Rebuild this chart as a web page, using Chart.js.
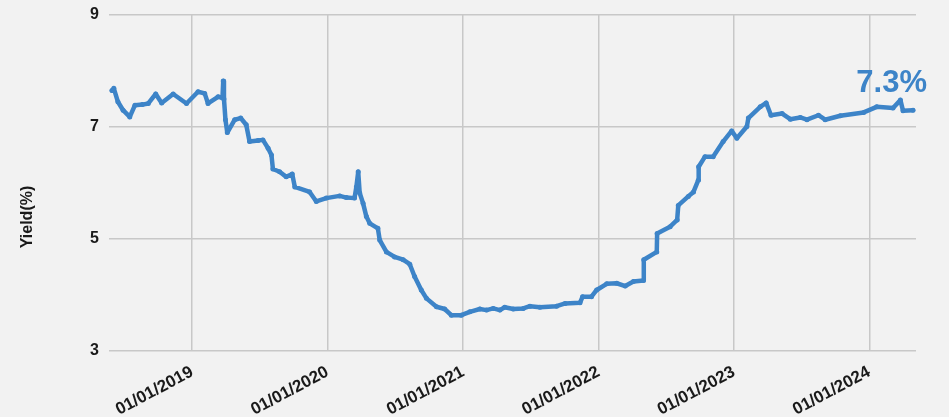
<!DOCTYPE html>
<html>
<head>
<meta charset="utf-8">
<script src="https://cdn.jsdelivr.net/npm/chart.js@4"></script>
<style>
  html, body { margin: 0; padding: 0; background: #f2f2f2; }
  #wrap { width: 949px; height: 417px; }
</style>
</head>
<body>
<div id="wrap"><canvas id="yieldChart"></canvas></div>
<script>
// daily yield
const dates = [
  '2018-05-30', '2018-06-04', '2018-06-15', '2018-06-29', '2018-07-17', '2018-07-31',
  '2018-08-20', '2018-09-05', '2018-09-25', '2018-10-11', '2018-11-11', '2018-12-17',
  '2019-01-17', '2019-02-04', '2019-02-13', '2019-03-12', '2019-03-24', '2019-03-26',
  '2019-03-28', '2019-04-01', '2019-04-06', '2019-04-26', '2019-05-12', '2019-05-27',
  '2019-06-05', '2019-06-28', '2019-07-11', '2019-07-25', '2019-08-03', '2019-08-07',
  '2019-08-25', '2019-09-12', '2019-09-28', '2019-10-05', '2019-11-14', '2019-12-02',
  '2019-12-29', '2020-02-03', '2020-02-21', '2020-03-14', '2020-03-19', '2020-03-24',
  '2020-03-28', '2020-04-06', '2020-04-15', '2020-04-24', '2020-05-16', '2020-05-21',
  '2020-06-08', '2020-06-30', '2020-07-23', '2020-08-10', '2020-08-23', '2020-09-10',
  '2020-09-24', '2020-10-21', '2020-11-12', '2020-11-30', '2020-12-27', '2021-01-19',
  '2021-02-15', '2021-03-05', '2021-03-23', '2021-04-10', '2021-04-23', '2021-05-16',
  '2021-06-12', '2021-06-30', '2021-07-27', '2021-09-10', '2021-10-03', '2021-11-12',
  '2021-11-19', '2021-12-13', '2021-12-27', '2022-01-23', '2022-02-19', '2022-03-14',
  '2022-04-05', '2022-05-02', '2022-05-03', '2022-06-07', '2022-06-08', '2022-07-13',
  '2022-08-01', '2022-08-04', '2022-08-31', '2022-09-14', '2022-09-27', '2022-09-28',
  '2022-10-15', '2022-11-06', '2022-12-03', '2022-12-26', '2023-01-09', '2023-02-05',
  '2023-02-09', '2023-03-13', '2023-03-29', '2023-04-11', '2023-05-11', '2023-06-02',
  '2023-06-29', '2023-07-17', '2023-08-17', '2023-09-04', '2023-10-15', '2023-12-17',
  '2024-01-21', '2024-03-05', '2024-03-25', '2024-04-01', '2024-04-28'
];
const yields = [
  7.65, 7.69, 7.45, 7.30, 7.18, 7.39,
  7.40, 7.42, 7.59, 7.43, 7.59, 7.42,
  7.63, 7.60, 7.42, 7.54, 7.52, 7.82,
  7.50, 7.13, 6.90, 7.13, 7.16, 7.04,
  6.74, 6.76, 6.77, 6.62, 6.50, 6.25,
  6.20, 6.11, 6.16, 5.93, 5.84, 5.67,
  5.73, 5.77, 5.74, 5.73, 5.93, 6.20,
  5.82, 5.64, 5.40, 5.28, 5.19, 4.98,
  4.77, 4.68, 4.63, 4.55, 4.33, 4.09,
  3.94, 3.79, 3.75, 3.64, 3.64, 3.70,
  3.75, 3.73, 3.76, 3.73, 3.78, 3.75,
  3.76, 3.80, 3.78, 3.80, 3.85, 3.86,
  3.97, 3.97, 4.09, 4.20, 4.21, 4.16,
  4.24, 4.26, 4.63, 4.77, 5.10, 5.22,
  5.34, 5.60, 5.76, 5.84, 6.05, 6.29,
  6.47, 6.47, 6.74, 6.93, 6.80, 7.01,
  7.16, 7.36, 7.43, 7.21, 7.24, 7.14,
  7.17, 7.13, 7.21, 7.13, 7.20, 7.26,
  7.36, 7.34, 7.48, 7.29, 7.30
];
const tickYears = [2019, 2020, 2021, 2022, 2023, 2024];
const yTicks = [3, 5, 7, 9];
const xStart = '2018-05-22';
const xEnd = '2024-05-06';
const lastLabel = '7.3%';

const DAY = 86400000;
const base = Date.UTC(2019, 0, 1);
const toDay = (s) => {
  const p = s.split('-').map(Number);
  return (Date.UTC(p[0], p[1] - 1, p[2]) - base) / DAY;
};
const pad2 = (n) => (n < 10 ? '0' : '') + n;

const points = dates.map((d, i) => ({ x: toDay(d), y: yields[i] }));

const lineColor = '#3d84c8';
const font = "'Liberation Sans', Arial, sans-serif";

const extraText = {
  id: 'extraText',
  afterDatasetsDraw(chart) {
    const ctx = chart.ctx;
    const meta = chart.getDatasetMeta(0);
    const last = meta.data[meta.data.length - 1];
    ctx.save();
    ctx.fillStyle = lineColor;
    ctx.font = 'bold 31px ' + font;
    ctx.textAlign = 'right';
    ctx.textBaseline = 'alphabetic';
    ctx.fillText(lastLabel, last.x + 14, last.y - 18);

    // y axis title
    ctx.translate(28, 217);
    ctx.rotate(-Math.PI / 2);
    ctx.fillStyle = '#1a1a1a';
    ctx.font = 'bold 16px ' + font;
    ctx.textAlign = 'center';
    ctx.textBaseline = 'middle';
    ctx.fillText('Yield(%)', 0, 0);
    ctx.restore();
  }
};

new Chart(document.getElementById('yieldChart'), {
  type: 'line',
  data: {
    datasets: [{
      label: 'Yield',
      data: points,
      borderColor: lineColor,
      backgroundColor: lineColor,
      borderWidth: 4.5,
      pointRadius: 2.5,
      pointBorderWidth: 0,
      pointHoverRadius: 3,
      borderJoinStyle: 'round',
      borderCapStyle: 'round',
      tension: 0
    }]
  },
  options: {
    responsive: true,
    maintainAspectRatio: false,
    animation: false,
    layout: { padding: { top: 0, right: 33, left: 0, bottom: 0 } },
    plugins: {
      legend: { display: false },
      tooltip: { enabled: false }
    },
    scales: {
      x: {
        type: 'linear',
        min: toDay(xStart),
        max: toDay(xEnd),
        afterBuildTicks: (scale) => {
          scale.ticks = tickYears.map(y => ({ value: (Date.UTC(y, 0, 1) - base) / DAY }));
        },
        afterFit: (scale) => { scale.height = 66; },
        grid: { color: '#c8c8c8', lineWidth: 1.5, drawTicks: false },
        border: { display: false },
        ticks: {
          callback: function (val) {
            const d = new Date(base + val * DAY);
            return pad2(d.getUTCDate()) + '/' + pad2(d.getUTCMonth() + 1) + '/' + d.getUTCFullYear();
          },
          autoSkip: false,
          maxRotation: 28,
          minRotation: 28,
          padding: 11,
          color: '#1a1a1a',
          font: { family: font, size: 17, weight: 'bold' }
        }
      },
      y: {
        min: 3,
        max: 9,
        afterBuildTicks: (scale) => {
          scale.ticks = yTicks.map(v => ({ value: v }));
        },
        afterFit: (scale) => {
          scale.width = 109;
          scale.paddingTop = 15;
          scale.paddingBottom = 0;
        },
        grid: { color: '#c8c8c8', lineWidth: 1.5, drawTicks: false },
        border: { display: false },
        ticks: {
          padding: 10,
          color: '#1a1a1a',
          font: { family: font, size: 16, weight: 'bold' }
        }
      }
    }
  },
  plugins: [extraText]
});
</script>
</body>
</html>
